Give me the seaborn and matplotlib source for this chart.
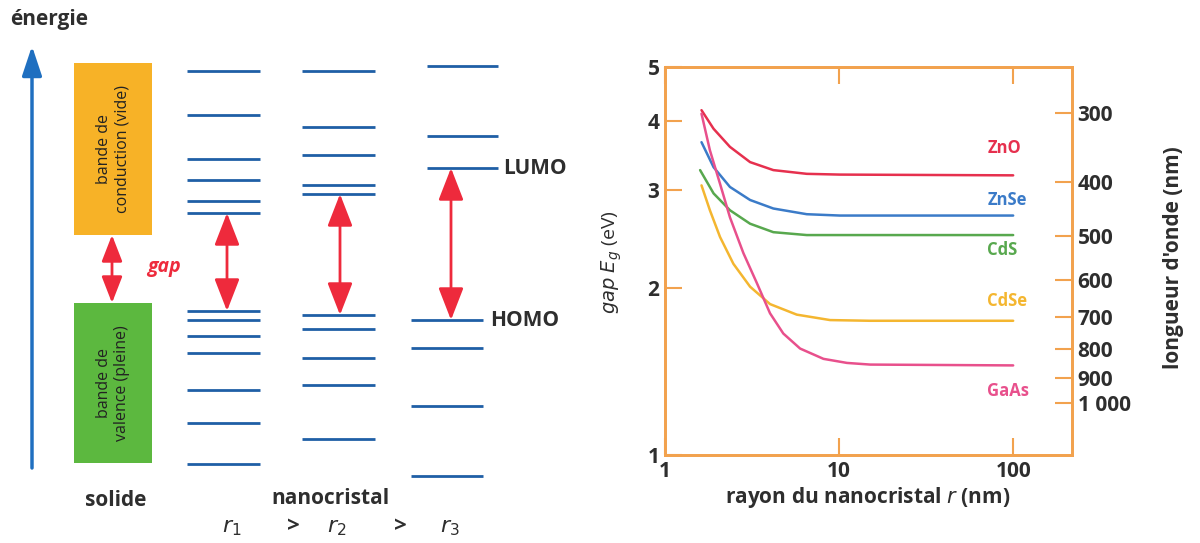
import numpy as np
import pandas as pd
import seaborn as sns
from matplotlib import pyplot as plt
from matplotlib.ticker import NullLocator, FixedLocator

# --- schéma des niveaux (énergie en unités arbitraires) ---
bande_conduction = (308, 480)
bande_valence = (80, 240)
r1_haut = [472, 428, 384, 363, 342, 330]
r1_bas = [232, 223, 207, 190, 153, 120, 79]
r2_haut = [472, 416, 388, 358, 349]
r2_bas = [228, 214, 185, 158, 104]
r3_haut = [477, 407, 375]
r3_bas = [223, 195, 137, 67]

# --- gap en fonction du rayon ---
r_ZnO = [1.62, 1.90, 2.36, 3.08, 4.19, 6.52, 10.1, 100]
E_ZnO = [4.18, 3.87, 3.59, 3.37, 3.26, 3.21, 3.20, 3.19]
r_ZnSe = [1.62, 1.90, 2.36, 3.08, 4.19, 6.52, 10.1, 100]
E_ZnSe = [3.66, 3.30, 3.04, 2.88, 2.78, 2.715, 2.70, 2.70]
r_CdS = [1.59, 1.90, 2.36, 3.08, 4.19, 6.52, 100]
E_CdS = [3.26, 2.96, 2.76, 2.61, 2.52, 2.49, 2.49]
r_CdSe = [1.62, 1.81, 2.07, 2.47, 3.08, 4.01, 5.71, 8.88, 15, 100]
E_CdSe = [3.06, 2.76, 2.47, 2.21, 2.01, 1.87, 1.79, 1.75, 1.745, 1.745]
r_GaAs = [1.62, 1.81, 2.07, 2.36, 2.82, 3.37, 4.01, 4.78, 5.97, 8.13, 11.1, 15.1, 100]
E_GaAs = [4.12, 3.54, 3.08, 2.68, 2.31, 2.04, 1.80, 1.655, 1.555, 1.49, 1.465, 1.455, 1.45]

materiaux = ['ZnO', 'ZnSe', 'CdS', 'CdSe', 'GaAs']
couleurs = {'ZnO': '#e6304e', 'ZnSe': '#3b7bc8', 'CdS': '#58a84e',
            'CdSe': '#f4b630', 'GaAs': '#e8508c'}
decalage_label = {'ZnO': 1.12, 'ZnSe': 1.066, 'CdS': 0.94, 'CdSe': 1.085, 'GaAs': 0.90}

ticks_r = [1, 10, 100]
ticks_E = [1, 2, 3, 4, 5]
longueurs_onde = [300, 400, 500, 600, 700, 800, 900, 1000]
labels_onde = ['300', '400', '500', '600', '700', '800', '900', '1 000']
HC = 1240  # eV.nm, lambda = hc / E

ORANGE = '#f2a24e'
BLEU = '#1f5fa6'
ROUGE = '#ee2a3c'
TEXTE = '#2e2e2e'

sns.set_style('ticks')
plt.rcParams['font.family'] = ['Open Sans', 'DejaVu Sans']
plt.rcParams['axes.axisbelow'] = False

fig = plt.figure(figsize=(12, 5.43), dpi=100)

# ================= schéma de gauche =================
ax0 = fig.add_axes([0, 0, 0.5, 1])
ax0.set_xlim(0, 600)
ax0.set_ylim(0, 543)
ax0.axis('off')

# axe de l'énergie
ax0.annotate('', xy=(32, 497), xytext=(32, 75),
             arrowprops=dict(arrowstyle='-|>,head_length=0.9,head_width=0.3',
                             color='#1f6fc0', lw=2.5, mutation_scale=20,
                             shrinkA=0, shrinkB=0))
ax0.text(10, 524, 'énergie', fontsize=15, fontweight='bold', color=TEXTE,
         ha='left', va='center')

# solide
ax0.fill_between([74, 152], *bande_conduction, color='#f7b227', lw=0)
ax0.fill_between([74, 152], *bande_valence, color='#5cb83f', lw=0)
ax0.text(113, sum(bande_conduction) / 2, 'bande de\nconduction (vide)', rotation=90,
         ha='center', va='center', fontsize=11.5, color='#222222', linespacing=1.25)
ax0.text(113, sum(bande_valence) / 2, 'bande de\nvalence (pleine)', rotation=90,
         ha='center', va='center', fontsize=11.5, color='#222222', linespacing=1.25)

fleche_gap = dict(arrowstyle='<|-|>,head_length=0.9,head_width=0.35',
                  color=ROUGE, lw=2, mutation_scale=22, shrinkA=0, shrinkB=0)
ax0.annotate('', xy=(112, bande_conduction[0]), xytext=(112, bande_valence[1]),
             arrowprops=dict(fleche_gap, mutation_scale=18))
ax0.text(147, 276, 'gap', color=ROUGE, fontsize=14, fontstyle='italic',
         fontweight='bold', ha='left', va='center')

# nanocristaux
colonnes = [
    (r1_haut, r1_bas, (187, 260), (187, 260), 227),
    (r2_haut, r2_bas, (302, 375), (302, 375), 340),
    (r3_haut, r3_bas, (427, 498), (411, 483), 451),
]
for haut, bas, (xa, xb), (xc, xd), xf in colonnes:
    ax0.hlines(haut, xa, xb, color=BLEU, lw=2)
    ax0.hlines(bas, xc, xd, color=BLEU, lw=2)
    ax0.annotate('', xy=(xf, min(haut)), xytext=(xf, max(bas)),
                 arrowprops=fleche_gap)

ax0.text(503, min(r3_haut), 'LUMO', fontsize=15, fontweight='bold', color=TEXTE,
         ha='left', va='center')
ax0.text(490, max(r3_bas), 'HOMO', fontsize=15, fontweight='bold', color=TEXTE,
         ha='left', va='center')

ax0.text(116, 43, 'solide', fontsize=15, fontweight='bold', color=TEXTE,
         ha='center', va='center')
ax0.text(330, 45, 'nanocristal', fontsize=15, fontweight='bold', color=TEXTE,
         ha='center', va='center')
for xt, s in [(232, r'$r_1$'), (293, '>'), (337, r'$r_2$'), (400, '>'), (450, r'$r_3$')]:
    ax0.text(xt, 16, s, fontsize=16, fontweight='bold', color=TEXTE,
             ha='center', va='center')

# ================= graphe de droite =================
series = [('ZnO', r_ZnO, E_ZnO), ('ZnSe', r_ZnSe, E_ZnSe), ('CdS', r_CdS, E_CdS),
          ('CdSe', r_CdSe, E_CdSe), ('GaAs', r_GaAs, E_GaAs)]
df = pd.concat([pd.DataFrame({'r': r, 'E': E, 'materiau': m}) for m, r, E in series])

ax1 = fig.add_axes([0.5542, 0.1621, 0.3392, 0.7145])
sns.lineplot(data=df, x='r', y='E', hue='materiau', hue_order=materiaux,
             palette=couleurs, estimator=None, sort=True, lw=1.8,
             legend=False, ax=ax1)
ax1.set_xscale('log')
ax1.set_yscale('log')
ax1.set_xlim(1, 218)
ax1.set_ylim(1, 5)
ax1.set_xlabel('')
ax1.set_ylabel('')

for m, r, E in series:
    ax1.text(71, E[-1] * decalage_label[m], m, color=couleurs[m], fontsize=12,
             fontweight='bold', ha='left', va='center')

ax1.xaxis.set_major_locator(FixedLocator(ticks_r))
ax1.set_xticklabels([str(v) for v in ticks_r])
ax1.yaxis.set_major_locator(FixedLocator(ticks_E))
ax1.set_yticklabels([str(v) for v in ticks_E])
ax1.xaxis.set_minor_locator(NullLocator())
ax1.yaxis.set_minor_locator(NullLocator())
ax1.tick_params(axis='both', which='major', direction='in', length=12, width=1.5,
                color=ORANGE, labelcolor=TEXTE, labelsize=15, pad=4,
                bottom=True, top=True, left=True, right=False)
for lab in ax1.get_xticklabels() + ax1.get_yticklabels():
    lab.set_fontweight('bold')

# axe des longueurs d'onde
ax2 = ax1.twinx()
ax2.set_yscale('log')
ax2.set_ylim(HC / 1, HC / 5)
ax2.yaxis.set_major_locator(FixedLocator(longueurs_onde))
ax2.set_yticklabels(labels_onde)
ax2.yaxis.set_minor_locator(NullLocator())
ax2.tick_params(axis='y', which='major', direction='in', length=12, width=1.5,
                color=ORANGE, labelcolor=TEXTE, labelsize=15, pad=4,
                left=False, right=True)
for lab in ax2.get_yticklabels():
    lab.set_fontweight('bold')

for a in (ax1, ax2):
    for sp in a.spines.values():
        sp.set_visible(True)
        sp.set_color(ORANGE)
        sp.set_linewidth(2)

fig.text(868 / 1200, 1 - 497 / 543, r'rayon du nanocristal $r$ (nm)', fontsize=15,
         fontweight='bold', color=TEXTE, ha='center', va='center')
fig.text(1173 / 1200, 1 - 258 / 543, "longueur d'onde (nm)", fontsize=15,
         fontweight='bold', color=TEXTE, rotation=90, ha='center', va='center')
fig.text(612 / 1200, 1 - 262 / 543, r'$gap$ $E_g$ (eV)', fontsize=14,
         color=TEXTE, rotation=90, ha='center', va='center')

fig.savefig('out.png', dpi=100, facecolor='white')
